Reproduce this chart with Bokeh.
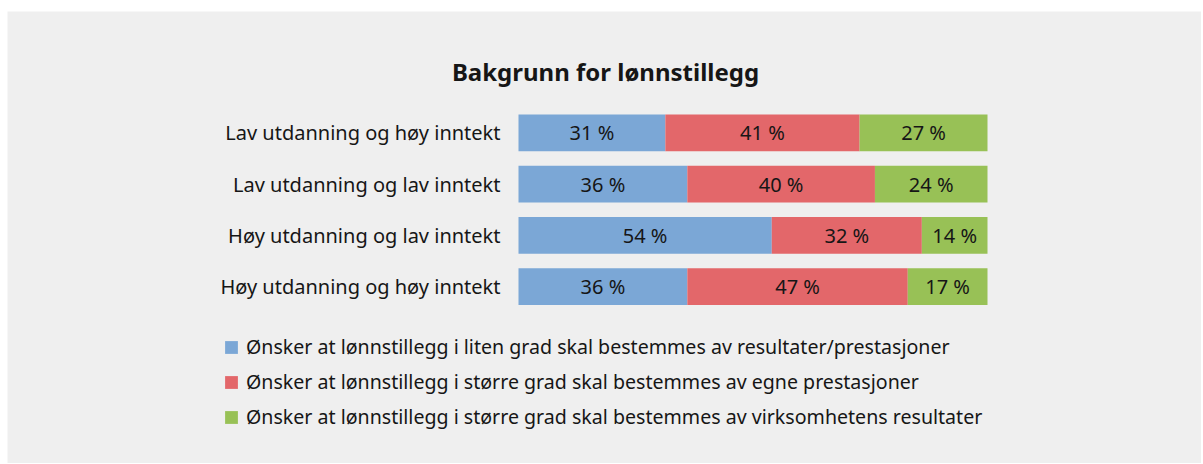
from bokeh.plotting import figure
from bokeh.models import ColumnDataSource, Range1d, Legend, LegendItem, Label
from bokeh.embed import file_html
from bokeh.resources import INLINE
from bokeh.core.properties import value

title = "Bakgrunn for lønnstillegg"
categories = [
    "Lav utdanning og høy inntekt",
    "Lav utdanning og lav inntekt",
    "Høy utdanning og lav inntekt",
    "Høy utdanning og høy inntekt",
]
series = [
    "Ønsker at lønnstillegg i liten grad skal bestemmes av resultater/prestasjoner",
    "Ønsker at lønnstillegg i større grad skal bestemmes av egne prestasjoner",
    "Ønsker at lønnstillegg i større grad skal bestemmes av virksomhetens resultater",
]
liten_grad = [31, 36, 54, 36]
egne_prestasjoner = [41, 40, 32, 47]
virksomhet = [27, 24, 14, 17]
colors = ["#7ba7d6", "#e3676a", "#98c156"]

FONT = "Noto Sans"
BG = "#efefef"
TXT = "#161616"

# ---- layout (pixels inside the figure) ----
W, H = 1194, 452
BAR_L, BAR_R = 511, 980          # where 0 % and 100 % fall
ROW0, ROW_STEP = 121.3, 51.3     # centre of first row, distance between rows
px_per_unit = (BAR_R - BAR_L) / 100.0

# 100 % stacked (normalised per row, like the original spreadsheet chart)
values = [liten_grad, egne_prestasjoner, virksomhet]
totals = [sum(v[i] for v in values) for i in range(len(categories))]
keys = ["s0", "s1", "s2"]
rows = list(range(len(categories)))
data = {"row": rows, "cat": categories}
for k, v in zip(keys, values):
    data[k] = [v[i] / totals[i] * 100 for i in rows]
source = ColumnDataSource(data)

x_range = Range1d(-BAR_L / px_per_unit, 100 + (W - BAR_R) / px_per_unit)
y_range = Range1d(len(categories) - 1 + (H - ROW0 - (len(categories) - 1) * ROW_STEP) / ROW_STEP,
                  -ROW0 / ROW_STEP)

p = figure(
    width=W, height=H, x_range=x_range, y_range=y_range,
    x_axis_location=None, y_axis_location=None,
    output_backend="svg", toolbar_location=None,
    min_border=0, background_fill_color=BG, border_fill_color=BG,
    outline_line_color=None,
)
p.margin = (11, 0, 0, 7)
p.xgrid.visible = False
p.ygrid.visible = False

renderers = p.hbar_stack(keys, y="row", height=0.715, color=colors,
                         line_color=None, source=source)

# category labels (right aligned just left of the bars)
p.text(x=[0] * len(categories), y=rows, text=categories, x_offset=-18,
       text_align="right", text_baseline="middle",
       text_font=value(FONT), text_font_size="20px", text_color=TXT)

# value labels at segment midpoints
lx, ly, lt = [], [], []
for i in rows:
    left = 0.0
    for k, v in zip(keys, values):
        w = data[k][i]
        lx.append(left + w / 2)
        ly.append(i)
        lt.append(f"{v[i]} %")
        left += w
p.text(x=lx, y=ly, text=lt, text_align="center", text_baseline="middle",
       text_font=value(FONT), text_font_size="20px", text_color=TXT)

p.add_layout(Label(x=598, y=H - 60, x_units="screen", y_units="screen", text=title,
                   text_align="center", text_baseline="middle",
                   text_font=FONT, text_font_size="24px", text_font_style="bold",
                   text_color=TXT))

legend = Legend(
    items=[LegendItem(label=s, renderers=[r]) for s, r in zip(series, renderers)],
    location=(216, 33), orientation="vertical",
    glyph_width=16, glyph_height=16, label_height=24, label_standoff=7, spacing=8,
    label_text_font=FONT, label_text_font_size="19.6px", label_text_color=TXT,
    label_text_baseline="middle",
    padding=0, margin=0, border_line_color=None, background_fill_alpha=0,
)
p.add_layout(legend, "center")

open("out.html", "w").write(file_html(p, INLINE))
